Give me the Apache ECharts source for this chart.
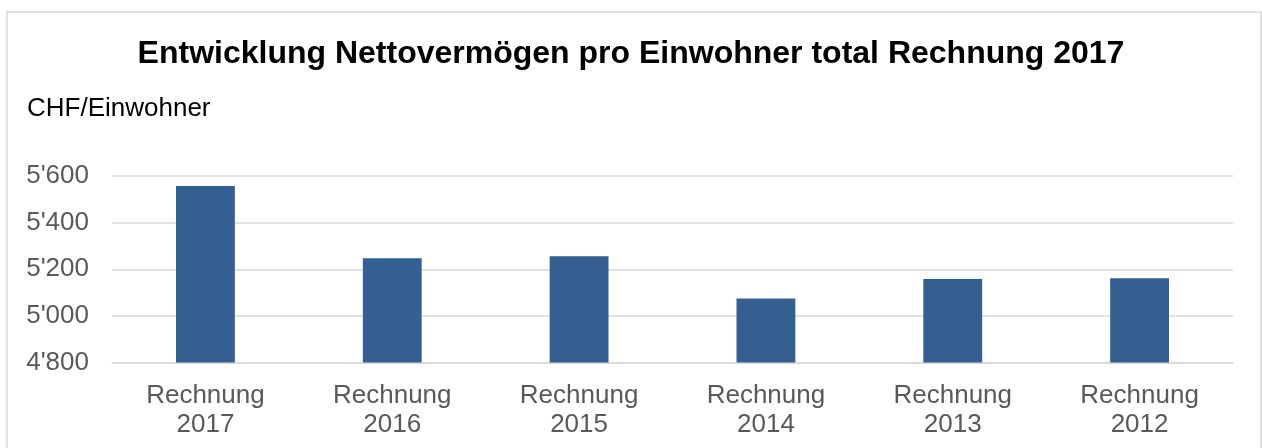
<!DOCTYPE html>
<html>
<head>
<meta charset="utf-8">
<script src="https://cdn.jsdelivr.net/npm/echarts@6/dist/echarts.min.js"></script>
<style>
html,body{margin:0;padding:0;background:#fff;overflow:hidden;}
#chart{width:1262px;height:448px;}
</style>
</head>
<body>
<div id="chart"></div>
<script>
const titleText = 'Entwicklung Nettovermögen pro Einwohner total Rechnung 2017';
const unitLabel = 'CHF/Einwohner';
const categories = ['Rechnung\n2017', 'Rechnung\n2016', 'Rechnung\n2015', 'Rechnung\n2014', 'Rechnung\n2013', 'Rechnung\n2012'];
const values = [5557, 5247, 5256, 5075, 5158, 5161];
const yMin = 4800, yMax = 5600, yStep = 200;

const font = "'Liberation Sans', Arial, sans-serif";
const chart = echarts.init(document.getElementById('chart'), null, {renderer: 'canvas'});
chart.setOption({
  animation: false,
  title: {
    text: titleText,
    left: 'center',
    top: 33,
    textStyle: {fontFamily: font, fontSize: 32, fontWeight: 'bold', color: '#000'}
  },
  graphic: [
    {type: 'rect', shape: {x: 7, y: 12, width: 1254, height: 500},
     style: {fill: 'none', stroke: '#d9d9d9', lineWidth: 1.5}, silent: true},
    {type: 'text', x: 27, y: 109,
     style: {text: unitLabel, font: '26px ' + font, fill: '#000', textVerticalAlign: 'middle'}}
  ],
  grid: {left: 112, right: 29, top: 176, bottom: 85.5, containLabel: false},
  xAxis: {
    type: 'category',
    data: categories,
    axisLine: {show: true, lineStyle: {color: '#d9d9d9', width: 1.5}},
    axisTick: {show: false},
    axisLabel: {fontFamily: font, fontSize: 26, color: '#595959', lineHeight: 29, margin: 19, interval: 0}
  },
  yAxis: {
    type: 'value',
    min: yMin, max: yMax, interval: yStep,
    axisLine: {show: false},
    axisTick: {show: false},
    splitLine: {lineStyle: {color: '#d9d9d9', width: 1.5}},
    axisLabel: {fontFamily: font, fontSize: 26, color: '#595959', margin: 23,
      formatter: v => String(v).replace(/\B(?=(\d{3})+(?!\d))/g, "'")}
  },
  series: [{
    type: 'bar',
    data: values,
    barWidth: '31.5%',
    itemStyle: {color: '#355f91'}
  }]
});
</script>
</body>
</html>
